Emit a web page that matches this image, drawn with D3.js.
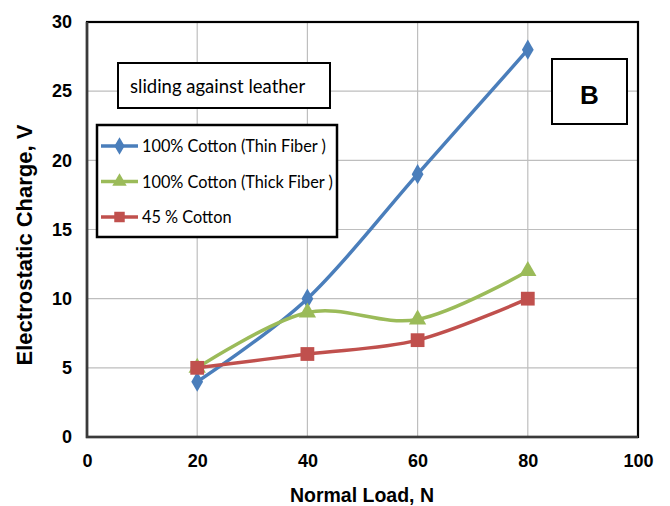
<!DOCTYPE html>
<html><head><meta charset="utf-8">
<script src="https://cdn.jsdelivr.net/npm/d3@7"></script>
<style>body{margin:0;background:#fff;}svg{display:block;}</style>
</head><body><svg id="c" width="670" height="506"></svg>
<script>
const loads = [20, 40, 60, 80];
const thinFiber = [4, 10, 19, 28];
const thickFiber = [5, 9, 8.5, 12];
const cotton45 = [5, 6, 7, 10];
const seriesNames = ["100% Cotton (Thin Fiber )", "100% Cotton (Thick Fiber )", "45 % Cotton"];
const xTicks = [0, 20, 40, 60, 80, 100];
const yTicks = [0, 5, 10, 15, 20, 25, 30];

const series = [
  {name: seriesNames[0], values: thinFiber, color: "#4a7ebb", sym: d3.symbolDiamond},
  {name: seriesNames[1], values: thickFiber, color: "#9bbb59", sym: d3.symbolTriangle},
  {name: seriesNames[2], values: cotton45, color: "#c0504d", sym: d3.symbolSquare}
];

const svg = d3.select("#c");
const L = 87, R = 638, T = 22, B = 437;
const x = d3.scaleLinear().domain([0, 100]).range([L, R]);
const y = d3.scaleLinear().domain([0, 30]).range([B, T]);

// gridlines
svg.append("g").selectAll("line").data(yTicks.slice(1, -1)).join("line")
  .attr("x1", L).attr("x2", R).attr("y1", d => y(d)).attr("y2", d => y(d))
  .attr("stroke", "#bebebe").attr("stroke-width", 1.2);
svg.append("g").selectAll("line").data(xTicks.slice(1, -1)).join("line")
  .attr("y1", T).attr("y2", B).attr("x1", d => x(d)).attr("x2", d => x(d))
  .attr("stroke", "#bebebe").attr("stroke-width", 1.2);

// frame
svg.append("rect").attr("x", L).attr("y", T).attr("width", R - L).attr("height", B - T)
  .attr("fill", "none").attr("stroke", "#000").attr("stroke-width", 2.2);
svg.append("path").attr("d", `M${L},${T}V${B}H${R}`).attr("fill", "none")
  .attr("stroke", "#3a3a3a").attr("stroke-width", 2.6);

// axes with d3
const xAxis = svg.append("g").attr("transform", `translate(0,${B})`)
  .call(d3.axisBottom(x).tickValues(xTicks).tickSize(0).tickPadding(17));
const yAxis = svg.append("g").attr("transform", `translate(${L},0)`)
  .call(d3.axisLeft(y).tickValues(yTicks).tickSize(0).tickPadding(15));
[xAxis, yAxis].forEach(a => {
  a.select(".domain").remove();
  a.selectAll("text").attr("font-family", "Liberation Sans, Arial, sans-serif")
    .attr("font-weight", "bold").attr("font-size", 18).attr("fill", "#000");
});

// axis titles
svg.append("text").attr("x", 362).attr("y", 502).attr("text-anchor", "middle")
  .attr("font-family", "Liberation Sans, Arial, sans-serif").attr("font-weight", "bold")
  .attr("font-size", 19.5).text("Normal Load, N");
svg.append("text").attr("transform", "translate(32,245) rotate(-90)").attr("text-anchor", "middle")
  .attr("font-family", "Liberation Sans, Arial, sans-serif").attr("font-weight", "bold")
  .attr("font-size", 22).text("Electrostatic Charge, V");

// lines
const line = d3.line().x((d, i) => x(loads[i])).y(d => y(d)).curve(d3.curveCardinal.tension(0));
const sym = d3.symbol();
series.forEach(s => {
  svg.append("path").attr("d", line(s.values)).attr("fill", "none")
    .attr("stroke", s.color).attr("stroke-width", 3.5);
});
series.forEach(s => {
  const size = s.sym === d3.symbolSquare ? 190 : (s.sym === d3.symbolTriangle ? 130 : 120);
  svg.append("g").selectAll("path").data(s.values).join("path")
    .attr("transform", (d, i) => `translate(${x(loads[i])},${y(d)})`)
    .attr("d", sym.type(s.sym).size(size)).attr("fill", s.color);
});

// note box
svg.append("rect").attr("x", 118).attr("y", 63).attr("width", 212).attr("height", 45)
  .attr("fill", "#fff").attr("stroke", "#000").attr("stroke-width", 2);
svg.append("text").attr("x", 130).attr("y", 93).attr("font-family", "Lato, sans-serif")
  .attr("font-size", 18.5).text("sliding against leather");

// B box
svg.append("rect").attr("x", 552).attr("y", 59).attr("width", 75).attr("height", 65)
  .attr("fill", "#fff").attr("stroke", "#000").attr("stroke-width", 2);
svg.append("text").attr("x", 589.5).attr("y", 104).attr("text-anchor", "middle")
  .attr("font-family", "Liberation Sans, Arial, sans-serif").attr("font-weight", "bold")
  .attr("font-size", 26).text("B");

// legend
svg.append("rect").attr("x", 97).attr("y", 125).attr("width", 240).attr("height", 112)
  .attr("fill", "#fff").attr("stroke", "#000").attr("stroke-width", 2.5);
const lg = svg.append("g").selectAll("g").data(series).join("g")
  .attr("transform", (d, i) => `translate(0,${146 + i * 35.5})`);
lg.append("line").attr("x1", 101).attr("x2", 138).attr("stroke", d => d.color).attr("stroke-width", 3.5);
lg.append("path").attr("transform", "translate(119.5,0)")
  .attr("d", d => sym.type(d.sym).size(d.sym === d3.symbolSquare ? 110 : 90)()).attr("fill", d => d.color);
lg.append("text").attr("x", 142).attr("y", 6).attr("font-family", "Lato, sans-serif")
  .attr("font-size", 16.3).text(d => d.name);
</script></body></html>
